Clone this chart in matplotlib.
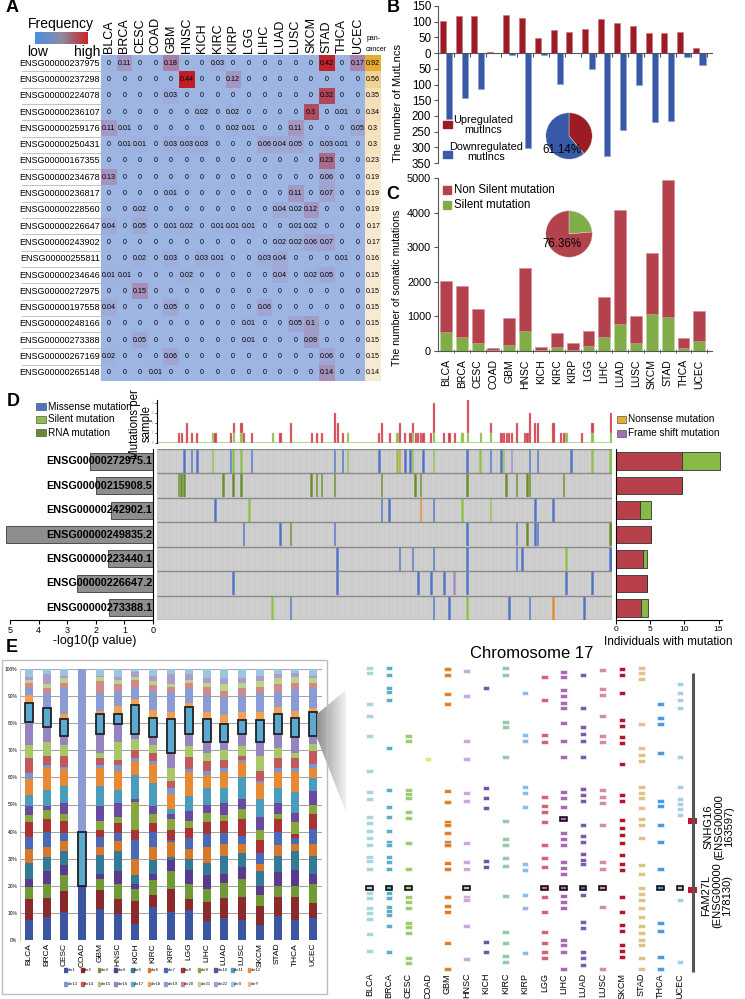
import numpy as np
import matplotlib
matplotlib.use("Agg")
import matplotlib.pyplot as plt
from matplotlib.colors import LinearSegmentedColormap
from matplotlib.patches import Rectangle, Polygon

plt.rcParams['font.family'] = ['Liberation Sans', 'DejaVu Sans']

# === Data ===
cancers = ['BLCA', 'BRCA', 'CESC', 'COAD', 'GBM', 'HNSC', 'KICH', 'KIRC', 'KIRP',
           'LGG', 'LIHC', 'LUAD', 'LUSC', 'SKCM', 'STAD', 'THCA', 'UCEC']

# panel A
heat_genes = ['ENSG00000237975', 'ENSG00000237298', 'ENSG00000224078', 'ENSG00000236107',
              'ENSG00000259176', 'ENSG00000250431', 'ENSG00000167355', 'ENSG00000234678',
              'ENSG00000236817', 'ENSG00000228560', 'ENSG00000226647', 'ENSG00000243902',
              'ENSG00000255811', 'ENSG00000234646', 'ENSG00000272975', 'ENSG00000197558',
              'ENSG00000248166', 'ENSG00000273388', 'ENSG00000267169', 'ENSG00000265148']
heat_freq = [
    [0, 0.11, 0, 0, 0.18, 0, 0, 0.03, 0, 0, 0, 0, 0, 0, 0.42, 0, 0.17],
    [0, 0, 0, 0, 0, 0.44, 0, 0, 0.12, 0, 0, 0, 0, 0, 0, 0, 0],
    [0, 0, 0, 0, 0.03, 0, 0, 0, 0, 0, 0, 0, 0, 0, 0.32, 0, 0],
    [0, 0, 0, 0, 0, 0, 0.02, 0, 0.02, 0, 0, 0, 0, 0.3, 0, 0.01, 0],
    [0.11, 0.01, 0, 0, 0, 0, 0, 0, 0.02, 0.01, 0, 0, 0.11, 0, 0, 0, 0.05],
    [0, 0.01, 0.01, 0, 0.03, 0.03, 0.03, 0, 0, 0, 0.06, 0.04, 0.05, 0, 0.03, 0.01, 0],
    [0, 0, 0, 0, 0, 0, 0, 0, 0, 0, 0, 0, 0, 0, 0.23, 0, 0],
    [0.13, 0, 0, 0, 0, 0, 0, 0, 0, 0, 0, 0, 0, 0, 0.06, 0, 0],
    [0, 0, 0, 0, 0.01, 0, 0, 0, 0, 0, 0, 0, 0.11, 0, 0.07, 0, 0],
    [0, 0, 0.02, 0, 0, 0, 0, 0, 0, 0, 0, 0.04, 0.02, 0.12, 0, 0, 0],
    [0.04, 0, 0.05, 0, 0.01, 0.02, 0, 0.01, 0.01, 0.01, 0, 0, 0.01, 0.02, 0, 0, 0],
    [0, 0, 0, 0, 0, 0, 0, 0, 0, 0, 0, 0.02, 0.02, 0.06, 0.07, 0, 0],
    [0, 0, 0.02, 0, 0.03, 0, 0.03, 0.01, 0, 0, 0.03, 0.04, 0, 0, 0, 0.01, 0],
    [0.01, 0.01, 0, 0, 0, 0.02, 0, 0, 0, 0, 0, 0.04, 0, 0.02, 0.05, 0, 0],
    [0, 0, 0.15, 0, 0, 0, 0, 0, 0, 0, 0, 0, 0, 0, 0, 0, 0],
    [0.04, 0, 0, 0, 0.05, 0, 0, 0, 0, 0, 0.06, 0, 0, 0, 0, 0, 0],
    [0, 0, 0, 0, 0, 0, 0, 0, 0, 0.01, 0, 0, 0.05, 0.1, 0, 0, 0],
    [0, 0, 0.05, 0, 0, 0, 0, 0, 0, 0.01, 0, 0, 0, 0.09, 0, 0, 0],
    [0.02, 0, 0, 0, 0.06, 0, 0, 0, 0, 0, 0, 0, 0, 0, 0.06, 0, 0],
    [0, 0, 0, 0.01, 0, 0, 0, 0, 0, 0, 0, 0, 0, 0, 0.14, 0, 0],
]
pan_freq = [0.92, 0.56, 0.35, 0.34, 0.3, 0.3, 0.23, 0.19, 0.19, 0.19,
            0.17, 0.17, 0.16, 0.15, 0.15, 0.15, 0.15, 0.15, 0.15, 0.14]

# panel B
up_lncs = [103, 118, 117, 2, 122, 111, 48, 72, 67, 76, 108, 96, 87, 65, 63, 67, 15]
down_lncs = [210, 142, 115, 0, 7, 303, 5, 97, 1, 52, 327, 245, 100, 218, 215, 12, 37]
pie_b = [38.86, 61.14]

# panel C
total_mut = [2020, 1870, 1200, 80, 960, 2400, 130, 520, 230, 570, 1550, 4080, 1020, 2830, 4950, 380, 1150]
silent_mut = [560, 400, 230, 20, 170, 590, 40, 110, 40, 140, 400, 780, 220, 1080, 970, 100, 300]
pie_c = [76.36, 23.64]

# panel D
n_samples = 175
d_genes = ['ENSG00000272975.1', 'ENSG00000215908.5', 'ENSG00000242902.1', 'ENSG00000249835.2',
           'ENSG00000223440.1', 'ENSG00000226647.2', 'ENSG00000273388.1']
d_logp = [2.2, 2.0, 1.47, 5.15, 1.57, 2.65, 1.53]
d_nonsilent = [9.7, 9.7, 3.5, 5.1, 4.0, 4.6, 3.6]
d_silent = [5.5, 0, 1.6, 0, 0.6, 0, 1.1]
d_mutations = [
    [(10, 'M'), (13, 'M'), (15, 'M'), (21, 'S'), (28, 'M'), (29, 'S'), (32, 'S'), (36, 'M'),
     (68, 'M'), (71, 'M'), (73, 'S'), (85, 'M'), (92, 'S'), (93, 'N'), (95, 'M'), (97, 'M'),
     (98, 'S'), (102, 'M'), (106, 'S'), (119, 'M'), (124, 'S'), (128, 'M'), (132, 'M'),
     (133, 'S'), (136, 'F'), (143, 'M'), (146, 'M'), (159, 'M'), (167, 'S'), (174, 'S')],
    [(8, 'R'), (9, 'R'), (10, 'R'), (25, 'R'), (29, 'R'), (32, 'R'), (59, 'R'), (61, 'R'),
     (63, 'R'), (68, 'R'), (86, 'R'), (99, 'R'), (101, 'R'), (119, 'R'), (134, 'R'),
     (138, 'R'), (142, 'R'), (143, 'R'), (156, 'R')],
    [(22, 'M'), (35, 'S'), (86, 'M'), (89, 'M'), (101, 'N'), (106, 'M'), (117, 'S'),
     (128, 'S'), (145, 'M'), (152, 'M')],
    [(33, 'M'), (47, 'M'), (51, 'R'), (68, 'M'), (119, 'M'), (138, 'M'), (142, 'R'),
     (145, 'M'), (146, 'M'), (174, 'R')],
    [(69, 'M'), (93, 'M'), (98, 'M'), (106, 'M'), (119, 'M'), (138, 'M'), (140, 'M'),
     (157, 'S'), (174, 'M')],
    [(29, 'M'), (69, 'M'), (100, 'M'), (105, 'M'), (110, 'M'), (114, 'F'), (119, 'M'),
     (157, 'M'), (167, 'M')],
    [(44, 'S'), (51, 'M'), (106, 'M'), (112, 'M'), (119, 'S'), (135, 'M'), (143, 'M'),
     (152, 'N'), (164, 'M')],
]
top_idx = [8, 9, 11, 13, 15, 21, 22, 28, 29, 32, 33, 36, 44, 47, 51, 59, 61, 63, 68, 69,
           71, 73, 85, 86, 89, 92, 93, 95, 97, 98, 99, 100, 101, 102, 105, 106, 110, 112, 114, 117,
           119, 124, 128, 132, 133, 134, 135, 136, 138, 141, 142, 143, 145, 146, 152, 155, 156, 157,
           163, 167, 174]
top_red = [1, 1, 2, 1, 1, 0, 1, 1, 1, 1, 1, 1, 0, 1, 2, 1, 1, 1, 3, 2,
           1, 0, 1, 2, 1, 0, 2, 1, 1, 1, 1, 1, 1, 1, 1, 3, 1, 1, 1, 0,
           4, 0, 1, 1, 1, 1, 1, 1, 2, 1, 1, 3, 2, 2, 2, 1, 1, 0, 1, 1, 2]
top_green = [0, 0, 0, 0, 0, 1, 0, 0, 1, 1, 0, 0, 1, 0, 0, 0, 0, 0, 0, 0,
             0, 1, 0, 0, 0, 1, 0, 0, 0, 1, 0, 0, 0, 0, 0, 1, 0, 0, 0, 1,
             1, 1, 1, 0, 0, 0, 0, 0, 0, 0, 0, 0, 0, 0, 0, 0, 0, 1, 0, 1, 1]

# panel E (percent of mutLncs per chromosome, chr1..chr22, chrX, chrY)
chroms = ['chr%d' % k for k in range(1, 23)] + ['chrX', 'chrY']
chrom_pct = [
    [7.5, 7.5, 4.5, 3, 6, 5, 4.5, 5.5, 2.5, 3.5, 4, 6, 2, 5.5, 5, 8.5, 7, 3, 2.5, 2, 1, 1, 3, 0],
    [8.5, 7, 5, 5, 5, 4, 5.5, 4.5, 3.5, 1.5, 6, 8, 1, 3.5, 5, 5.5, 7.1, 0.4, 5, 2, 1.5, 3.5, 2, 0],
    [10.5, 7.5, 6, 3.5, 5.5, 3.5, 3, 4.5, 2.5, 4, 6.5, 6, 1, 4, 4, 3.4, 6.2, 1.9, 9.5, 2, 1.5, 1, 2.5, 0],
    [20, 0, 0, 0, 0, 0, 0, 0, 0, 0, 0, 0, 0, 0, 0, 0, 20, 0, 60, 0, 0, 0, 0, 0],
    [11.5, 7, 4, 2, 7, 3, 3.5, 2.5, 3.5, 5.5, 7.5, 6.5, 1, 2.5, 2, 7, 7.3, 1.2, 6.5, 4.5, 1.5, 0.5, 2.5, 0],
    [9.5, 5.5, 5.5, 5, 7.5, 3.5, 3, 3.5, 2.5, 5, 5, 7, 2, 2, 6.5, 6.6, 3.7, 3.2, 5.5, 2.5, 1.5, 1, 3, 0],
    [6, 8.5, 4.5, 1.5, 3.5, 6, 7, 3.5, 10.5, 1, 9, 5, 1, 3, 4, 2, 10.8, 2.2, 4, 3, 1, 2, 1, 0],
    [12, 4.5, 5.5, 2.5, 5, 5, 5.5, 3, 3.5, 3, 8.5, 7, 1, 3, 3, 2.8, 7.3, 2.9, 7, 2, 1.5, 2, 2.5, 0],
    [10.5, 8.5, 6.5, 4, 1, 5.5, 1, 3.5, 4, 2, 2, 5.5, 2, 2.5, 5, 5.6, 12.4, 2.5, 7.5, 2, 1, 3.5, 2, 0],
    [11, 4, 5.5, 5.5, 4, 3.5, 4, 4, 2.5, 3.5, 5.5, 9, 1, 4.5, 4, 4.5, 9.9, 1.6, 5.5, 2, 1, 2, 2, 0],
    [7, 7, 5, 5, 4.5, 6, 4.5, 4.5, 3.5, 3, 6, 5, 1.5, 3.5, 3, 4.2, 8.4, 2.4, 6.5, 3, 1.5, 1.5, 3.5, 0],
    [8, 7.5, 5.5, 3.5, 6.5, 4.5, 4, 4.5, 2, 4.5, 5.5, 6, 1.5, 3, 3.5, 3.2, 6.4, 3.4, 6.5, 2.5, 2.5, 2, 3.5, 0],
    [7.5, 8.5, 6.5, 4.5, 5, 3.5, 3, 6, 4, 3.5, 8, 5.5, 1, 1.5, 3.5, 4.5, 5, 3, 6.5, 2.5, 2, 1.5, 3.5, 0],
    [5.5, 7, 4, 3.5, 5.5, 2.5, 4, 5, 3.5, 5, 6.5, 6, 0.5, 4, 5.5, 5.2, 7.8, 3, 7, 2.5, 2, 2, 2.5, 0],
    [9, 7, 4, 5, 6, 4, 5, 4.5, 2, 4, 5.5, 6, 1.5, 3.5, 4, 5, 7.3, 2.7, 5.5, 3, 2, 1.5, 2, 0],
    [7.5, 8.5, 4, 6, 7, 2.5, 2, 1.5, 4.5, 3.5, 7.5, 7.5, 1.5, 3.5, 2, 5.8, 7.3, 2.4, 8, 2.5, 2, 1.5, 1.5, 0],
    [8, 5.5, 7, 4, 6.5, 4.5, 5.5, 5.5, 3.5, 5, 4.6, 4, 1.3, 4.7, 2.7, 2.9, 8.8, 1.5, 7.5, 2, 1.5, 1, 2.5, 0],
]
chrom_colors = ['#3b55a0', '#8b2a2c', '#6f9a35', '#5a3a8c', '#347a96', '#d7782a',
                '#4a6ab8', '#a83234', '#86a83e', '#6a4aa0', '#4a9cbc', '#e88a34',
                '#7f95cf', '#c05a5c', '#a8c66a', '#9584bf', '#5aaad2', '#f0a050',
                '#8b9bd3', '#d08a8a', '#bcd48a', '#ac9ccc', '#9cc6dc', '#f4b888']

# chromosome 17 positions of mutLncs (position index along chr17, top = p-ter)
chr17_pos = [
    [0, 5, 36, 48, 68, 103, 124, 131, 149, 155, 163, 170, 177, 189, 193, 201, 225, 230, 240, 245, 251, 266, 283],
    [0, 7, 20, 24, 32, 80, 122, 139, 149, 163, 174, 177, 189, 194, 201, 225, 230, 239, 243, 247, 258, 284],
    [68, 73, 122, 126, 130, 144, 150, 175, 201, 229, 234, 240, 255, 259, 265, 290, 295],
    [91],
    [1, 7, 26, 36, 123, 134, 154, 157, 165, 174, 177, 195, 201, 229, 238, 244, 275, 301],
    [3, 28, 73, 91, 125, 133, 175, 194, 201, 229, 232, 258, 291],
    [20, 120, 130, 140, 193, 199, 274, 284],
    [0, 7, 54, 59, 89, 153, 171, 177, 190, 198, 228, 264, 275, 288, 294],
    [25, 67, 73, 119, 125, 139, 196, 202, 227, 240, 285],
    [9, 32, 67, 74, 129, 138, 144, 154, 177, 190, 199, 229, 244, 264, 275, 284, 290],
    [4, 9, 22, 28, 35, 40, 55, 73, 89, 124, 130, 139, 165, 171, 177, 194, 200, 206, 228, 234, 240, 272, 277, 284, 301],
    [7, 40, 59, 66, 73, 89, 121, 127, 133, 157, 168, 174, 186, 192, 196, 227, 254, 260, 284, 290, 297],
    [2, 21, 27, 48, 68, 74, 122, 129, 135, 157, 194, 201, 239, 301],
    [1, 7, 25, 52, 58, 69, 75, 96, 127, 133, 152, 160, 167, 175, 187, 196, 202, 229, 244, 257, 263, 277, 283, 289],
    [0, 5, 11, 56, 80, 87, 93, 119, 125, 130, 140, 151, 157, 170, 197, 206, 220, 226, 232, 240, 249, 258, 265, 272, 277, 290, 301],
    [36, 50, 56, 85, 133, 138, 157, 174, 201, 255, 263, 289, 301],
    [16, 25, 32, 40, 89, 119, 131, 136, 141, 147, 232, 294],
]
chr17_colors = ['#a9d5de', '#5aaec8', '#9ccb72', '#e4e46e', '#e07d28', '#cbaad9', '#7352a8',
                '#93cba9', '#8abbe9', '#d46474', '#aa6ab2', '#7a5aaa', '#d68c9c', '#b8142e',
                '#e2c288', '#4a9ae2', '#a9cde2']
fam27l_pos = 220
fam27l_hits = ['BLCA', 'BRCA', 'CESC', 'HNSC', 'LGG', 'LIHC', 'LUAD', 'LUSC', 'THCA', 'UCEC']
snhg16_pos = 151
snhg16_hits = ['LIHC']

# === Figure helpers ===
W, H = 745, 999
fig = plt.figure(figsize=(W / 100, H / 100), dpi=100)


def px_axes(x0, y0, x1, y1):
    return fig.add_axes([x0 / W, 1 - y1 / H, (x1 - x0) / W, (y1 - y0) / H])


def ftext(x, y, s, **kw):
    fig.text(x / W, 1 - y / H, s, **kw)


def frect(x, y, w, h, **kw):
    fig.add_artist(Rectangle((x / W, 1 - (y + h) / H), w / W, h / H,
                             transform=fig.transFigure, **kw))


for lab, (x, y) in zip('ABCDE', [(12, 8), (393, 8), (393, 194), (13, 402), (12, 648)]):
    ftext(x, y, lab, fontsize=13, fontweight='bold', ha='center', va='center')

# === Panel A ===
freq = np.array(heat_freq)
cmap_freq = LinearSegmentedColormap.from_list('freq', ['#9db5e2', '#a58fba', '#ad5064', '#c01e26'])
cmap_pan = LinearSegmentedColormap.from_list('pan', ['#f8ecd8', '#f2d59c', '#e6a92a'])

axa = px_axes(101, 55, 381, 381)
axa.imshow(freq, cmap=cmap_freq, vmin=0, vmax=0.44, aspect='auto', extent=(-0.5, 16.5, 19.5, -0.5))
axa.imshow(np.array(pan_freq)[:, None], cmap=cmap_pan, vmin=0.12, vmax=0.95, aspect='auto',
           extent=(16.5, 17.5, 19.5, -0.5))
axa.set_xlim(-0.5, 17.5)
axa.set_ylim(19.5, -0.5)
axa.axis('off')
for i in range(len(heat_genes)):
    for j in range(len(cancers)):
        axa.text(j, i, f'{freq[i, j]:g}', ha='center', va='center', fontsize=5.1)
    axa.text(17, i, f'{pan_freq[i]:g}', ha='center', va='center', fontsize=5.1)
for j, c in enumerate(cancers):
    axa.text(j, -0.62, c, rotation=90, ha='center', va='bottom', fontsize=9)
axa.text(16.55, -0.62, 'pan-\ncancer', ha='left', va='bottom', fontsize=5, linespacing=1.8)

axl = px_axes(22, 55, 101, 381)
axl.set_xlim(0, 1)
axl.set_ylim(19.5, -0.5)
axl.axis('off')
for i, g in enumerate(heat_genes):
    axl.text(0.985, i, g, ha='right', va='center', fontsize=6.5)
    axl.axhline(i + 0.5, color='#b8b8b8', lw=0.6)
axl.axvline(1, color='#909090', lw=0.8)

cax = px_axes(35, 32, 88, 44)
cax.imshow(np.linspace(0, 1, 100)[None, :], aspect='auto',
           cmap=LinearSegmentedColormap.from_list('lg', ['#4a8fe3', '#8c8ba0', '#c8262a']))
cax.axis('off')
ftext(61, 24, 'Frequency', fontsize=10, ha='center', va='center')
ftext(27, 52, 'low', fontsize=10, ha='left', va='center')
ftext(100, 52, 'high', fontsize=10, ha='right', va='center')

# === Panel B ===
RED_B, BLUE_B = '#9c1b25', '#3858a8'
xb = np.arange(len(cancers))
axb = px_axes(438, 6, 712, 163)
axb.bar(xb - 0.2, up_lncs, 0.38, color=RED_B, edgecolor='#c8707a', lw=0.4)
axb.bar(xb + 0.2, -np.array(down_lncs), 0.38, color=BLUE_B, edgecolor='#8aa0d0', lw=0.4)
axb.set_xlim(-0.5, 16.8)
axb.set_ylim(-350, 150)
axb.set_yticks(range(-350, 151, 50))
axb.set_yticklabels([str(abs(v)) for v in range(-350, 151, 50)], fontsize=8.3)
axb.spines['top'].set_visible(False)
axb.spines['right'].set_visible(False)
axb.spines['bottom'].set_position(('data', 0))
axb.spines['bottom'].set_color('#555555')
axb.spines['left'].set_color('#555555')
axb.set_xticks(xb + 0.5)
axb.set_xticklabels([])
axb.tick_params(axis='x', length=3, direction='out', color='#555555')
axb.tick_params(axis='y', length=3, color='#555555', pad=2)
ftext(398, 103, 'The number of MutLncs', rotation=90, fontsize=8, ha='center', va='center')

frect(443, 121, 9, 7, color=RED_B)
ftext(483, 125, 'Upregulated\nmutlncs', fontsize=7.8, ha='center', va='center', linespacing=1.1)
frect(443, 151, 9, 7, color=BLUE_B)
ftext(486, 152, 'Downregulated\nmutlncs', fontsize=7.8, ha='center', va='center', linespacing=1.1)

axpb = px_axes(540, 107, 598, 165)
axpb.pie(pie_b, colors=[RED_B, BLUE_B], startangle=90, counterclock=False,
         wedgeprops=dict(edgecolor='#dddddd', lw=0.3))
axpb.set_aspect('equal')
ftext(562, 150, '61.14%', fontsize=8.3, ha='center', va='center')

# === Panel C ===
RED_C, GREEN_C = '#b3424c', '#80ad48'
silent = np.array(silent_mut)
nonsilent = np.array(total_mut) - silent
axc = px_axes(438, 178, 712, 351)
axc.bar(xb, silent, 0.75, color=GREEN_C, edgecolor='#b8d898', lw=0.4)
axc.bar(xb, nonsilent, 0.75, bottom=silent, color=RED_C, edgecolor='#d88890', lw=0.4)
axc.set_xlim(-0.5, 16.8)
axc.set_ylim(0, 5000)
axc.set_yticks(range(0, 5001, 1000))
axc.set_yticklabels([str(v) for v in range(0, 5001, 1000)], fontsize=7.8)
axc.set_xticks(xb)
axc.set_xticklabels(cancers, rotation=90, fontsize=7.5)
axc.set_xticks(xb + 0.5, minor=True)
axc.tick_params(axis='x', which='major', length=0, pad=6)
axc.tick_params(axis='x', which='minor', length=3, direction='inout', color='#555555')
axc.tick_params(axis='y', length=3, color='#555555', pad=2)
axc.spines['top'].set_visible(False)
axc.spines['right'].set_visible(False)
axc.spines['bottom'].set_color('#555555')
axc.spines['left'].set_color('#555555')
ftext(397, 288, 'The number of somatic mutations', rotation=90, fontsize=7.6, ha='center', va='center')

frect(443, 186, 8, 8, color=RED_C)
ftext(454, 190, 'Non Silent mutation', fontsize=8.3, ha='left', va='center')
frect(443, 201, 8, 8, color=GREEN_C)
ftext(454, 205, 'Silent mutation', fontsize=8.3, ha='left', va='center')

axpc = px_axes(540, 205, 598, 263)
axpc.pie(pie_c[::-1], colors=[GREEN_C, RED_C], startangle=90, counterclock=False,
         wedgeprops=dict(edgecolor='#dddddd', lw=0.3))
axpc.set_aspect('equal')
ftext(562, 244, '76.36%', fontsize=8.3, ha='center', va='center')

# === Panel D ===
mut_colors = {'M': '#4f73c4', 'S': '#8cc04a', 'R': '#6b8a2a', 'N': '#e08a30', 'F': '#a08ac0'}
legend_d = [('Missense mutation', '#4f73c4'), ('Silent mutation', '#8cc04a'), ('RNA mutation', '#6b8a2a')]
for k, (name, col) in enumerate(legend_d):
    frect(36, 403 + k * 13, 10, 7, facecolor=col, edgecolor='#555555', lw=0.5)
    ftext(48, 406.5 + k * 13, name, fontsize=7.2, ha='left', va='center')
for k, (name, col) in enumerate([('Nonsense mutation', '#e0b030'), ('Frame shift mutation', '#a070b0')]):
    frect(617, 416 + k * 13.5, 9, 7, facecolor=col, edgecolor='#555555', lw=0.5)
    ftext(628, 419.5 + k * 13.5, name, fontsize=7.2, ha='left', va='center')

axt = px_axes(157, 400, 612, 443)
axt.bar(top_idx, top_green, 0.9, color='#8cc04a', edgecolor='#c8e0b0', lw=0.3)
axt.bar(top_idx, top_red, 0.9, bottom=top_green, color='#d0454f', edgecolor='#eaa0a8', lw=0.3)
axt.axhline(0, color='#b8d890', lw=1.5, zorder=0)
axt.set_xlim(-0.5, n_samples - 0.5)
axt.set_ylim(0, 4.3)
axt.set_xticks([])
axt.set_yticks(range(5))
axt.set_yticklabels([str(v) for v in range(5)], fontsize=2, color='#888888')
axt.tick_params(axis='y', length=1.5, pad=1, width=0.5)
for s in ['top', 'right', 'bottom']:
    axt.spines[s].set_visible(False)
axt.spines['left'].set_linewidth(0.8)
ftext(141, 424, 'Mutations per\nsample', rotation=90, fontsize=8.3, ha='center', va='center',
      linespacing=1.0)

axm = px_axes(157, 449, 612, 620)
axm.set_facecolor('#c9c9c9')
axm.vlines(np.arange(n_samples) - 0.5, -0.5, len(d_genes) - 0.5, color='#e4e4e4', lw=0.35)
for r, muts in enumerate(d_mutations):
    for s, t in muts:
        axm.bar(s, 0.96, bottom=r - 0.48, width=1.0, color=mut_colors[t], lw=0)
axm.hlines(np.arange(len(d_genes) + 1) - 0.5, -0.5, n_samples - 0.5, color='#8a8a8a', lw=1.0)
axm.set_xlim(-0.5, n_samples - 0.5)
axm.set_ylim(len(d_genes) - 0.5, -0.5)
axm.set_xticks([])
axm.set_yticks([])
for s in axm.spines.values():
    s.set_visible(False)

yd = np.arange(len(d_genes))
axp = px_axes(10, 449, 153, 620)
axp.barh(yd, d_logp, 0.7, color='#8e8e8e', edgecolor='#3a3a3a', lw=0.6, clip_on=False)
axp.set_xlim(5, 0)
axp.set_ylim(len(d_genes) - 0.5, -0.5)
axp.set_yticks([])
axp.set_xticks(range(6))
axp.set_xticklabels([str(v) for v in range(6)], fontsize=6.5)
axp.tick_params(axis='x', length=3, pad=1)
axp.spines['top'].set_visible(False)
axp.spines['left'].set_visible(False)
for i, g in enumerate(d_genes):
    axp.text(0.03, i, g, ha='right', va='center', fontsize=7.8, fontweight='bold')
ftext(95, 641, '-log10(p value)', fontsize=9, ha='center', va='center')

axr = px_axes(616, 449, 722, 620)
axr.barh(yd, d_nonsilent, 0.72, color='#b8404a', edgecolor='#333333', lw=0.6)
axr.barh(yd, d_silent, 0.72, left=d_nonsilent, color='#88b848', edgecolor='#333333', lw=0.6)
axr.set_xlim(0, 15.5)
axr.set_ylim(len(d_genes) - 0.5, -0.5)
axr.set_yticks([])
axr.set_xticks([0, 5, 10, 15])
axr.set_xticklabels(['0', '5', '10', '15'], fontsize=6)
axr.tick_params(axis='x', length=3, pad=1)
axr.spines['top'].set_visible(False)
axr.spines['right'].set_visible(False)
ftext(668, 642, 'Individuals with mutation', fontsize=8.5, ha='center', va='center')

# === Panel E: chromosome composition ===
frect(2, 660, 325, 334, facecolor='none', edgecolor='#bdbdbd', lw=1.0)
pct = np.array(chrom_pct)
axe = px_axes(20, 669, 322, 940)
bottom = np.zeros(len(cancers))
for k, ch in enumerate(chroms):
    is17 = ch == 'chr17'
    axe.bar(xb, pct[:, k], 0.45, bottom=bottom, color=chrom_colors[k],
            edgecolor='#222222' if is17 else 'none', lw=1.3 if is17 else 0, zorder=3 if is17 else 2)
    bottom += pct[:, k]
axe.set_xlim(-0.5, 16.5)
axe.set_ylim(0, 100)
axe.set_yticks(range(0, 101, 10))
axe.set_yticklabels([f'{v}%' for v in range(0, 101, 10)], fontsize=3.5)
axe.yaxis.grid(True, color='#a6a6a6', lw=0.8, zorder=0)
axe.set_axisbelow(True)
axe.set_xticks(xb)
axe.set_xticklabels(cancers, rotation=90, fontsize=6.0)
axe.tick_params(length=0, pad=2)
for s in ['top', 'right', 'bottom']:
    axe.spines[s].set_visible(False)
axe.spines['left'].set_color('#c8c8c8')

axleg = px_axes(64, 963, 264, 991)
axleg.set_xlim(0, 12)
axleg.set_ylim(2, 0)
axleg.axis('off')
for k, ch in enumerate(chroms):
    row, col = divmod(k, 12)
    axleg.add_patch(Rectangle((col + 0.02, row + 0.36), 0.16, 0.28, color=chrom_colors[k]))
    axleg.text(col + 0.22, row + 0.5, ch, fontsize=2.9, ha='left', va='center')

# zoom callout from UCEC chr17 block
grad = np.linspace(0.55, 0.95, 60)[None, :]
axg = px_axes(316, 688, 346, 816)
axg.set_xlim(316, 346)
axg.set_ylim(816, 688)
axg.axis('off')
im = axg.imshow(np.repeat(grad, 2, axis=0), cmap='gray', vmin=0, vmax=1,
                extent=(316, 346, 816, 688), aspect='auto')
clip = Polygon([(317, 714), (346, 690), (346, 812), (317, 738)], closed=True, transform=axg.transData)
im.set_clip_path(clip)

# === Panel E: chromosome 17 map ===
axch = px_axes(360, 660, 745, 975)
axch.set_xlim(-0.5, 19.35)
axch.set_ylim(307, -8)
axch.axis('off')
for i, (c, positions) in enumerate(zip(cancers, chr17_pos)):
    col = chr17_colors[i]
    axch.bar([i] * len(positions), 4.2, bottom=np.array(positions) - 2.1, width=0.34,
             color=col, edgecolor='white', lw=0.4)
    if c in fam27l_hits:
        axch.bar(i, 4.2, bottom=fam27l_pos - 2.1, width=0.34, color=col, edgecolor='black', lw=1.1)
    if c in snhg16_hits:
        axch.bar(i, 4.2, bottom=snhg16_pos - 2.1, width=0.34, color=col, edgecolor='black', lw=1.1)
    axch.text(i, 305, c, rotation=90, ha='center', va='top', fontsize=6.5, clip_on=False)
chr_x = 16.66
axch.plot([chr_x, chr_x], [5, 304], color='#555555', lw=2.2, solid_capstyle='butt')
for pos in [snhg16_pos + 2, fam27l_pos + 2]:
    axch.bar(chr_x, 6, bottom=pos - 3, width=0.45, color='#c8102e')
axch.text(18.0, snhg16_pos + 8, 'SNHG16\n(ENSG00000\n163597)', rotation=90, ha='center',
          va='center', fontsize=8, linespacing=1.05, multialignment='center')
axch.text(17.9, fam27l_pos + 7, 'FAM27L\n(ENSG00000\n178130)', rotation=90, ha='center',
          va='center', fontsize=8, linespacing=1.05, multialignment='center')
ftext(532, 653, 'Chromosome 17', fontsize=12, ha='center', va='center')

fig.savefig('out.png', dpi=100)
